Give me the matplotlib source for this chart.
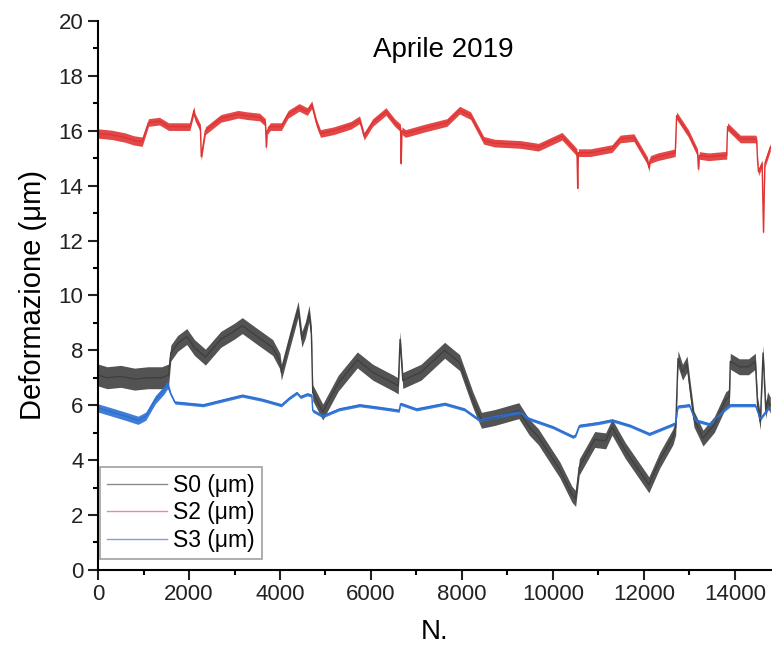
#importing all necessary packages
import numpy as np
import matplotlib
matplotlib.use('Agg')
import matplotlib.pyplot as plt
from matplotlib.lines import Line2D

#values (N = sample number, deformation in um)
s0_n = [0, 200, 500, 800, 1100, 1400, 1550, 1600, 1750, 1950, 2120, 2360, 2700, 3000,
        3170, 3460, 3840, 4000, 4030, 4220, 4400, 4480, 4560, 4640, 4690, 4720, 4800,
        4940, 5280, 5700, 6040, 6500, 6600, 6640, 6700, 7100, 7620, 7950, 8240, 8430,
        8720, 9250, 9480, 9680, 10150, 10420, 10500, 10580, 10920, 11160, 11300, 11590,
        12110, 12350, 12640, 12700, 12750, 12850, 12950, 13000, 13100, 13300, 13550,
        13800, 13880, 13900, 14100, 14300, 14450, 14500, 14560, 14620, 14680, 14720, 14780]
s0_val = [7.1, 7.0, 7.05, 6.95, 7.0, 7.0, 7.1, 7.9, 8.25, 8.5, 8.1, 7.75, 8.4, 8.7,
          8.9, 8.55, 8.1, 7.6, 7.2, 8.4, 9.5, 8.4, 8.75, 9.35, 8.6, 6.45, 6.2,
          5.75, 6.8, 7.65, 7.2, 6.8, 6.7, 8.4, 6.9, 7.2, 8.0, 7.55, 6.2, 5.45,
          5.55, 5.8, 5.2, 4.85, 3.65, 2.75, 2.6, 3.75, 4.75, 4.7, 5.2, 4.35,
          3.1, 4.0, 4.85, 5.2, 7.7, 7.2, 7.5, 6.8, 5.5, 4.8, 5.3,
          6.2, 6.3, 7.6, 7.4, 7.4, 7.6, 6.0, 5.4, 7.9, 5.8, 6.2, 6.0]

s2_n = [0, 300, 600, 780, 970, 1110, 1350, 1550, 2020, 2110, 2130, 2250, 2270, 2360,
        2700, 3080, 3270, 3550, 3680, 3700, 3720, 3790, 4030, 4180, 4420, 4600, 4700,
        4800, 4890, 5180, 5560, 5750, 5850, 6040, 6330, 6520, 6650, 6665, 6680, 6760,
        7190, 7670, 7950, 8190, 8480, 8720, 9290, 9680, 10200, 10480, 10530, 10545,
        10560, 10820, 11300, 11480, 11780, 12080, 12110, 12140, 12300, 12690, 12720,
        12980, 13180, 13200, 13220, 13420, 13750, 13820, 13840, 14120, 14450, 14480,
        14500, 14520, 14600, 14630, 14660, 14780]
s2_val = [15.9, 15.85, 15.75, 15.65, 15.6, 16.3, 16.35, 16.15, 16.15, 16.75, 16.5, 16.1, 15.05, 16.0,
          16.45, 16.6, 16.55, 16.5, 16.3, 15.4, 16.0, 16.15, 16.15, 16.6, 16.85, 16.7, 16.95,
          16.3, 15.9, 16.0, 16.2, 16.4, 15.8, 16.3, 16.7, 16.3, 16.1, 14.8, 16.0, 15.9,
          16.1, 16.3, 16.75, 16.55, 15.65, 15.55, 15.5, 15.4, 15.8, 15.3, 15.2, 13.9,
          15.2, 15.2, 15.35, 15.7, 15.75, 14.9, 14.65, 14.95, 15.05, 15.2, 16.55,
          15.9, 15.2, 14.6, 15.1, 15.05, 15.1, 15.1, 16.15, 15.7, 15.7, 15.65,
          14.9, 14.5, 14.8, 12.3, 14.8, 15.4]

s3_n = [0, 300, 600, 880, 1050, 1260, 1450, 1530, 1600, 1690, 2000, 2310, 2800, 3170,
        3600, 4030, 4200, 4370, 4450, 4600, 4700, 4720, 4940, 5300, 5750, 6200, 6620,
        6650, 7000, 7620, 8050, 8390, 8800, 9250, 9480, 10000, 10440, 10500, 10580,
        11000, 11300, 11700, 12120, 12640, 12700, 12750, 13000, 13130, 13450, 13750,
        13900, 14450, 14560, 14650, 14740]
s3_val = [5.9, 5.75, 5.6, 5.45, 5.6, 6.2, 6.55, 6.75, 6.4, 6.1, 6.05, 6.0, 6.2, 6.35,
          6.2, 6.0, 6.25, 6.45, 6.3, 6.4, 6.35, 5.8, 5.6, 5.85, 6.0, 5.9, 5.8,
          6.05, 5.85, 6.05, 5.85, 5.45, 5.6, 5.75, 5.5, 5.2, 4.85, 4.9, 5.25,
          5.35, 5.45, 5.25, 4.95, 5.3, 5.35, 5.95, 6.0, 5.45, 5.3, 5.8,
          6.0, 6.0, 5.5, 5.7, 5.9]

labels = ['S0 (\u03bcm)', 'S2 (\u03bcm)', 'S3 (\u03bcm)']
colors = ['#404040', '#e03434', '#2a6fd2']
legend_colors = ['#8a8a8a', '#f08a8a', '#7f9fd8']

plt.rcParams['font.family'] = ['Liberation Sans', 'DejaVu Sans']

fig = plt.figure(figsize=(7.72, 6.55), dpi=100)
ax = fig.add_axes([0.127, 0.13, 0.872, 0.838])

#the sensor readings are noisy, so each series is drawn as a line plus a thin noise band
series = [(s0_n, s0_val), (s2_n, s2_val), (s3_n, s3_val)]
for i, (n, v) in enumerate(series):
    n = np.array(n, dtype=float)
    v = np.array(v, dtype=float)
    if i == 0:
        band = np.where(n < 1560, 0.4, 0.29)
    elif i == 1:
        band = np.where(n < 1000, 0.17, 0.14)
    else:
        band = np.where(n < 1560, 0.15, 0.06)
    ax.fill_between(n, v - band, v + band, color=colors[i], lw=0, alpha=0.9)
    ax.plot(n, v, color=colors[i], lw=1.0)

ax.set_xlim(0, 14800)
ax.set_ylim(0, 20)
ax.set_xticks(np.arange(0, 14001, 2000))
ax.set_xticks(np.arange(1000, 14801, 2000), minor=True)
ax.set_yticks(np.arange(0, 21, 2))
ax.set_yticks(np.arange(1, 20, 2), minor=True)

ax.spines['top'].set_visible(False)
ax.spines['right'].set_visible(False)
ax.spines['left'].set_linewidth(1.5)
ax.spines['bottom'].set_linewidth(1.5)
ax.tick_params(which='major', direction='out', length=7, width=1.5, labelsize=16, colors='#222222')
ax.tick_params(which='minor', direction='out', length=3.5, width=1.5)

ax.set_xlabel('N.', fontsize=20, labelpad=10)
ax.set_ylabel('Deformazione (\u03bcm)', fontsize=21, labelpad=8)
ax.text(0.513, 0.97, 'Aprile 2019', transform=ax.transAxes, ha='center', va='top', fontsize=20)

handles = [Line2D([], [], color=c, lw=1) for c in legend_colors]
leg = ax.legend(handles, labels, loc='lower left', bbox_to_anchor=(0.003, 0.02),
                fontsize=16.5, frameon=True, fancybox=False, edgecolor='#888888',
                handlelength=2.6, labelspacing=0.2, borderpad=0.3, handletextpad=0.3,
                borderaxespad=0)
leg.get_frame().set_linewidth(1.2)

plt.savefig('out.png', dpi=100)
